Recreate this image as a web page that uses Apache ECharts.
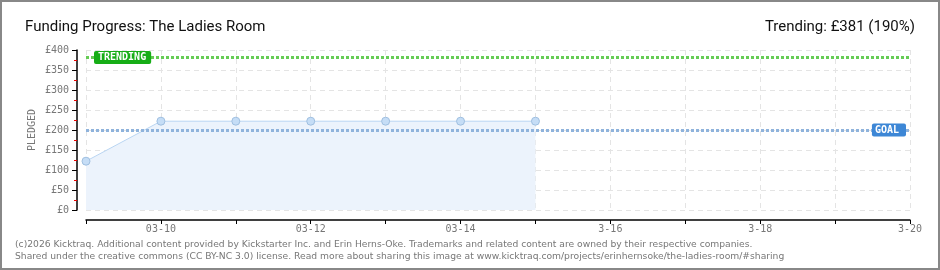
<!DOCTYPE html>
<html><head><meta charset="utf-8">
<script src="https://cdn.jsdelivr.net/npm/echarts@6/dist/echarts.min.js"></script>
<style>html,body{margin:0;padding:0;background:#fff}#c{width:940px;height:270px;box-sizing:border-box;border:2px solid #888}</style>
</head><body><div id="c"></div>
<script>
const categories = ['03-09','03-10','03-11','03-12','03-13','03-14','03-15','03-16','03-17','03-18','03-19','03-20'];
const tickLabels = ['', '03-10', '', '03-12', '', '03-14', '', '3-16', '', '3-18', '', '3-20'];
const pledged = [122, 222, 222, 222, 222, 222, 222];
const goal = 200;
const trending = 381;

const chart = echarts.init(document.getElementById('c'), null, {renderer: 'canvas'});
const pixFont = 'DejaVu Sans Mono';
chart.setOption({
  animation: false,
  grid: {left: 84, right: 28, top: 48, bottom: 58},
  title: [
    {text: 'Funding Progress: The Ladies Room', left: 18, top: 13,
     textStyle: {fontFamily: 'Roboto', fontSize: 15, fontWeight: 'normal', color: '#111'}},
    {text: 'Trending: £381 (190%)', right: 18, top: 13,
     textStyle: {fontFamily: 'Roboto', fontSize: 15, fontWeight: 'normal', color: '#111'}},
    {text: '(c)2026 Kicktraq. Additional content provided by Kickstarter Inc. and Erin Herns-Oke. Trademarks and related content are owned by their respective companies.\nShared under the creative commons (CC BY-NC 3.0) license. Read more about sharing this image at www.kicktraq.com/projects/erinhernsoke/the-ladies-room/#sharing',
     left: 8, top: 231,
     textStyle: {fontFamily: 'DejaVu Sans', fontSize: 9.2, fontWeight: 'normal', color: '#777', lineHeight: 12.5}}
  ],
  xAxis: {
    type: 'category', data: categories, boundaryGap: false, offset: 10,
    axisLine: {onZero: false, lineStyle: {color: '#000', width: 1.5}},
    axisTick: {show: true, interval: 0, length: 4, inside: false, lineStyle: {color: '#000'}},
    axisLabel: {interval: 0, color: '#777', fontFamily: pixFont, fontSize: 10, margin: 4,
      formatter: (v, i) => tickLabels[i]},
    splitLine: {show: true, interval: 0, lineStyle: {color: '#e4e4e4', type: [5, 4]}}
  },
  yAxis: {
    type: 'value', min: 0, max: 400, interval: 50, offset: 9,
    name: 'PLEDGED', nameLocation: 'middle', nameGap: 40, nameRotate: 90, nameMoveOverlap: false,
    nameTextStyle: {color: '#777', fontFamily: pixFont, fontSize: 10},
    axisLine: {show: true, onZero: false, lineStyle: {color: '#000', width: 1.5}},
    axisTick: {show: true, length: 5, lineStyle: {color: '#000'}},
    minorTick: {show: true, splitNumber: 2, length: 3, lineStyle: {color: '#e00'}},
    axisLabel: {color: '#777', fontFamily: pixFont, fontSize: 10, margin: 8,
      formatter: v => '£' + v},
    splitLine: {show: true, lineStyle: {color: '#e4e4e4', type: [5, 4]}}
  },
  series: [{
    type: 'line', data: pledged,
    symbol: 'circle', symbolSize: 8,
    itemStyle: {color: '#c5ddf6', borderColor: '#9fbfe0', borderWidth: 1},
    lineStyle: {color: '#b9d5f2', width: 1},
    areaStyle: {color: '#ecf3fc', opacity: 1},
    markLine: {
      silent: true, symbol: 'none',
      data: [
        {yAxis: trending, lineStyle: {color: '#66cc55', width: 3, type: [3, 2]},
         label: {show: true, position: 'insideStart', formatter: 'TRENDING', distance: [8, -7],
           color: '#fff', backgroundColor: '#16ad16', fontFamily: pixFont, fontSize: 10, fontWeight: 'bold',
           padding: [2, 5, 1, 4], borderRadius: 2}},
        {yAxis: goal, lineStyle: {color: '#8fb3dc', width: 3, type: [3, 2]},
         label: {show: true, position: 'insideEnd', formatter: 'GOAL', distance: [4, -7],
           color: '#fff', backgroundColor: '#3d87d6', fontFamily: pixFont, fontSize: 10, fontWeight: 'bold',
           padding: [2, 7, 1, 3], borderRadius: 2}}
      ]
    }
  }]
});
</script></body></html>
